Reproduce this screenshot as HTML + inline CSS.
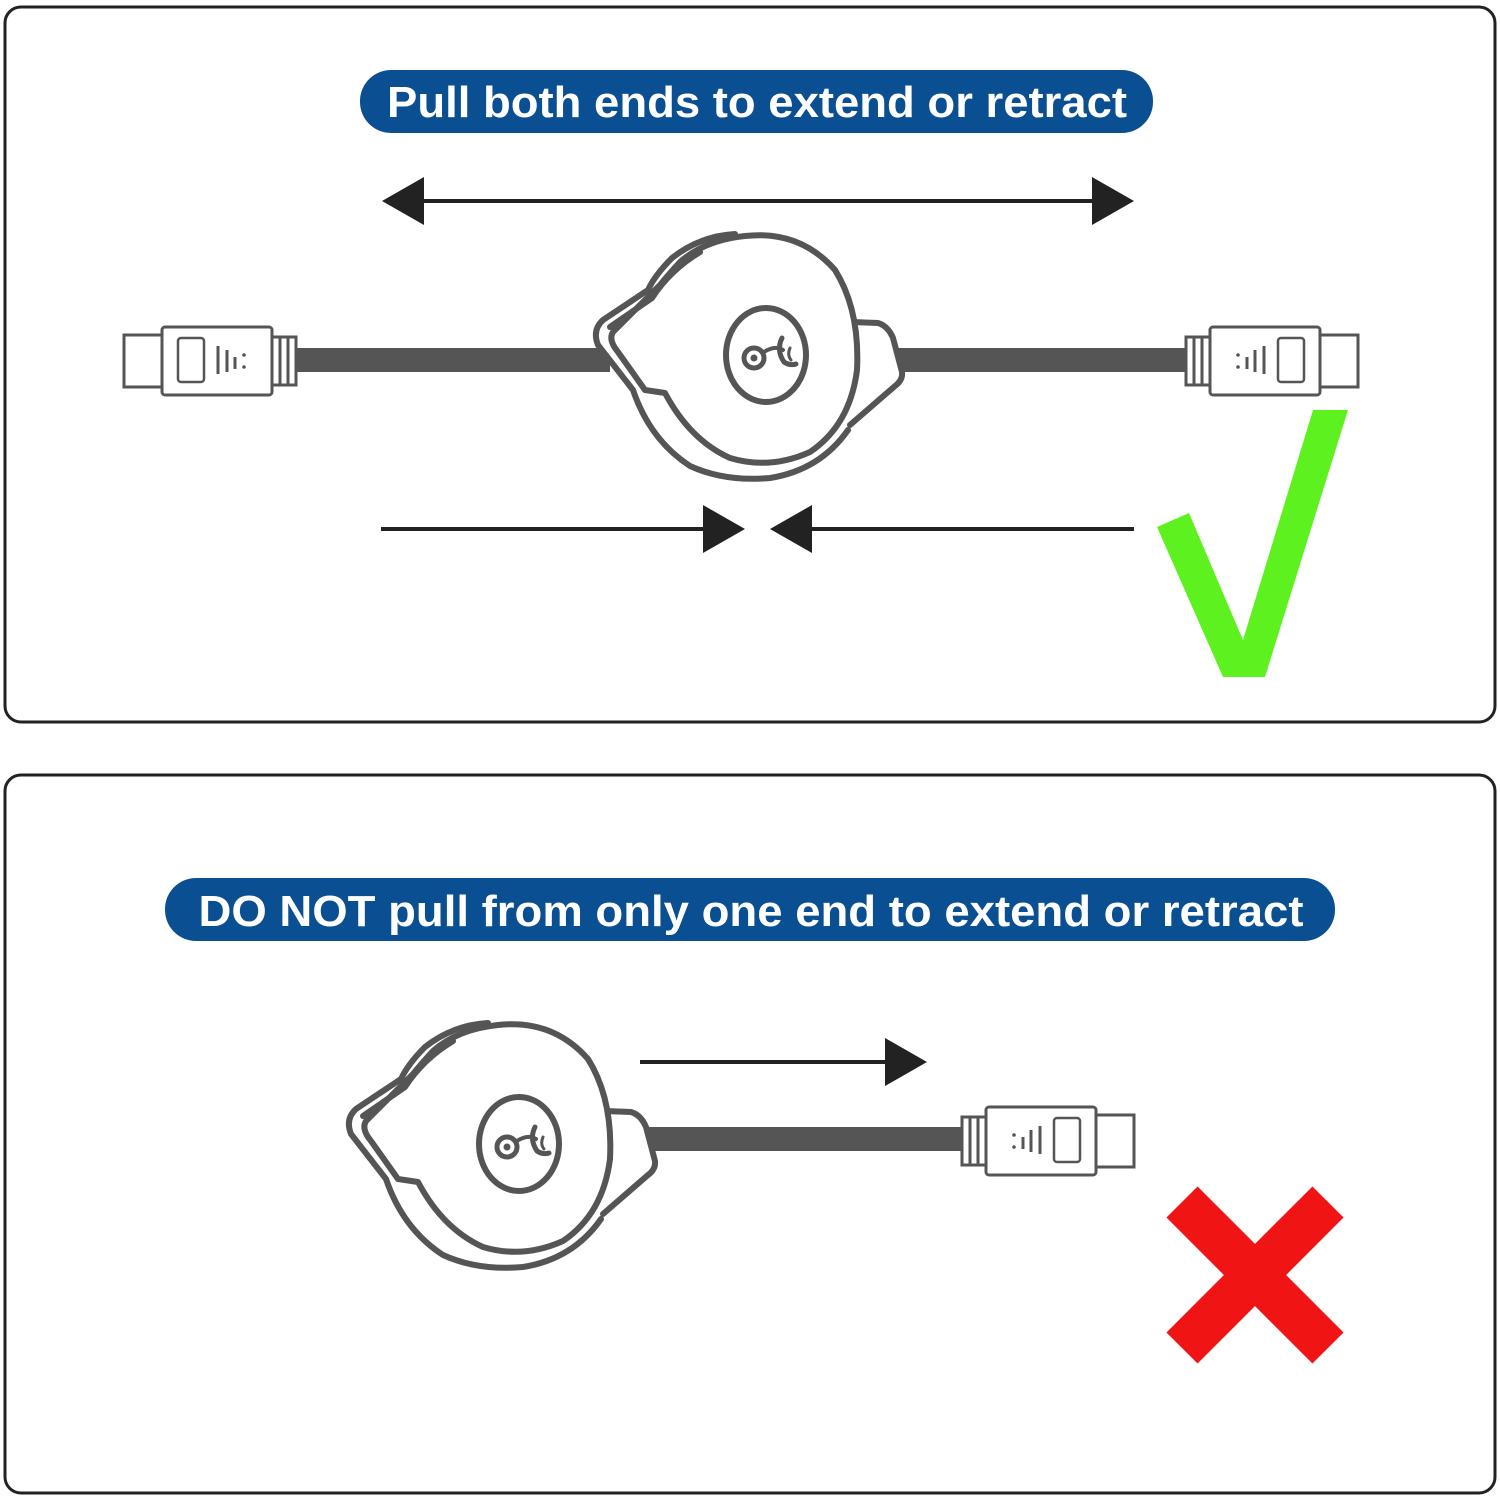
<!DOCTYPE html>
<html><head><meta charset="utf-8"><style>html,body{margin:0;padding:0;background:#fff}svg{display:block}</style></head>
<body>
<svg width="1500" height="1500" viewBox="0 0 1500 1500" xmlns="http://www.w3.org/2000/svg">
<defs>
<g id="reel" fill="none" stroke="#555" stroke-width="6" stroke-linejoin="round" stroke-linecap="round">
  <!-- right wedge -->
  <path d="M852 322 L878 323 Q888 326 893 338 L902 372 Q903 380 895 386 L850 425" fill="#fff"/>
  <!-- back outline -->
  <path d="M735 234 Q700 236 672 258 Q655 275 648 290 L603 320 Q592 330 598 345 L633 390 Q650 440 690 466 Q725 482 770 478 Q820 470 848 430" fill="#fff"/>
  <!-- front main -->
  <path d="M613 332 Q608 340 618 352 L645 390 L665 393 Q690 440 730 458 Q770 470 810 452 Q850 425 857 370 Q860 310 835 270 Q800 230 745 236 Q705 240 680 262 Q668 275 660 285 Z" fill="#fff"/>
  <path d="M610 327 L652 298 Q670 270 700 252" />
  <ellipse cx="766" cy="355" rx="40" ry="47" fill="#fff"/>
  <circle cx="754" cy="358" r="10" stroke-width="5"/>
  <circle cx="754" cy="358" r="3.5" fill="#555" stroke="none"/>
  <path d="M764 352 Q775 345 783 350" stroke-width="4"/>
  <path d="M782 338 Q776 350 784 362 Q790 366 796 364" stroke-width="5"/>
  <path d="M790 348 Q787 355 791 360" stroke-width="3"/>
</g>
<g id="plugR" stroke="#555" stroke-width="3" fill="#fff">
  <rect x="0" y="-23" width="24" height="48"/>
  <line x1="8" y1="-23" x2="8" y2="25"/><line x1="16" y1="-23" x2="16" y2="25"/>
  <rect x="24" y="-33" width="110" height="68" rx="3"/>
  <rect x="134" y="-25" width="38" height="52"/>
  <rect x="92" y="-22" width="26" height="44" rx="3" stroke-width="2.5"/>
  <line x1="78" y1="-14" x2="78" y2="14" stroke-width="3"/>
  <line x1="69" y1="-10" x2="69" y2="12" stroke-width="3"/>
  <line x1="61" y1="-3" x2="61" y2="9" stroke-width="3"/>
  <circle cx="52" cy="-5" r="1.8" fill="#555" stroke="none"/>
  <circle cx="52" cy="7" r="1.8" fill="#555" stroke="none"/>
</g>
</defs>

<rect x="5" y="7" width="1490" height="715" rx="16" fill="#fff" stroke="#222" stroke-width="3"/>
<rect x="5" y="775" width="1490" height="718" rx="16" fill="#fff" stroke="#222" stroke-width="3"/>

<rect x="360" y="70" width="793" height="63" rx="31" fill="#0a4f92"/>
<text x="757" y="117" text-anchor="middle" font-family="Liberation Sans, sans-serif" font-weight="bold" font-size="44" fill="#fff" textLength="740" lengthAdjust="spacingAndGlyphs">Pull both ends to extend or retract</text>

<rect x="165" y="878" width="1170" height="63" rx="31" fill="#0a4f92"/>
<text x="751" y="926" text-anchor="middle" font-family="Liberation Sans, sans-serif" font-weight="bold" font-size="44" fill="#fff" textLength="1105" lengthAdjust="spacingAndGlyphs">DO NOT pull from only one end to extend or retract</text>

<!-- top arrows -->
<line x1="415" y1="201" x2="1100" y2="201" stroke="#222" stroke-width="4"/>
<polygon points="382,201 424,177 424,225" fill="#222"/>
<polygon points="1134,201 1092,177 1092,225" fill="#222"/>
<line x1="381" y1="529" x2="710" y2="529" stroke="#222" stroke-width="4"/>
<polygon points="745,529 703,505 703,553" fill="#222"/>
<line x1="805" y1="529" x2="1134" y2="529" stroke="#222" stroke-width="4"/>
<polygon points="770,529 812,505 812,553" fill="#222"/>

<!-- top cables -->
<rect x="290" y="348" width="320" height="24" fill="#555"/>
<rect x="890" y="348" width="300" height="24" fill="#555"/>
<g transform="translate(296,360) scale(-1,1)"><use href="#plugR"/></g>
<g transform="translate(1186,360)"><use href="#plugR"/></g>
<use href="#reel"/>

<polygon points="1157,527 1189,513 1243,640 1313,410 1348,410 1265,677 1223,677" fill="#5df21f"/>

<!-- bottom -->
<line x1="640" y1="1062" x2="890" y2="1062" stroke="#222" stroke-width="4"/>
<polygon points="927,1062 885,1038 885,1086" fill="#222"/>
<rect x="640" y="1127" width="325" height="24" fill="#555"/>
<g transform="translate(962,1140)"><use href="#plugR"/></g>
<g transform="translate(-247,789)"><use href="#reel"/></g>

<g stroke="#f01414" stroke-width="44" stroke-linecap="butt">
  <line x1="1182" y1="1202" x2="1328" y2="1348"/>
  <line x1="1328" y1="1202" x2="1182" y2="1348"/>
</g>
</svg>
</body></html>
